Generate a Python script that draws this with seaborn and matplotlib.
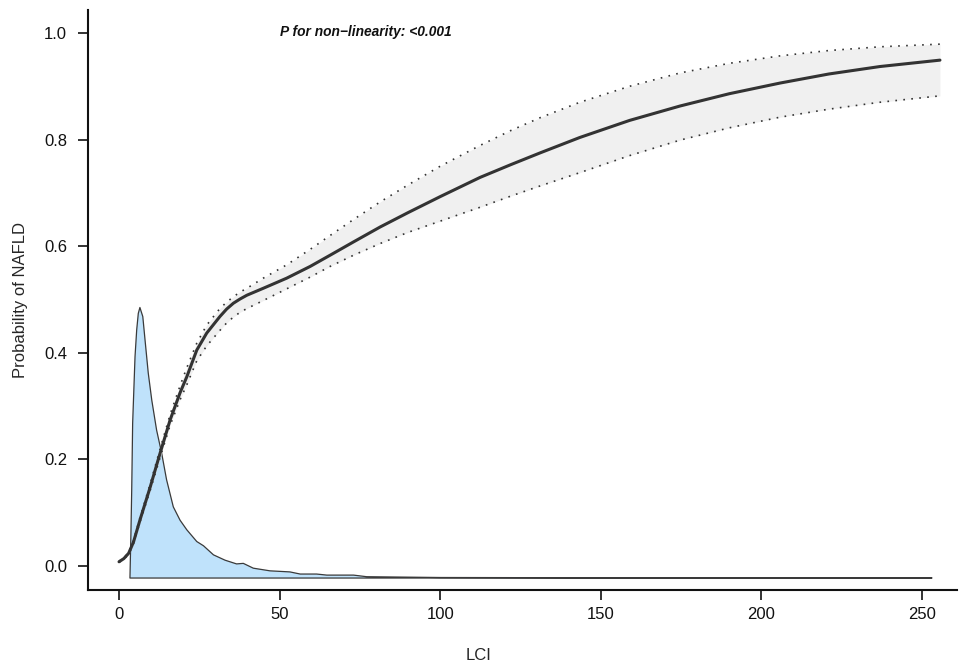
import numpy as np
import matplotlib
matplotlib.use("Agg")
import matplotlib.pyplot as plt
import seaborn as sns

# RCS-Kurve (Wahrscheinlichkeit NAFLD vs. LCI)
lci = [0, 1.5, 3, 4.5, 6.5, 9.7, 12.8, 15.9, 19, 21.1, 24.2, 27.3, 31.4, 33.5,
       35.6, 37.7, 39.8, 44.9, 52.2, 59.5, 65.7, 73, 81.3, 90, 100, 112.4, 122,
       131.1, 143.5, 159, 174.7, 190, 205.8, 221, 236.9, 255.6]
prob = [0.008, 0.014, 0.024, 0.045, 0.086, 0.148, 0.212, 0.274, 0.325, 0.355,
        0.405, 0.437, 0.468, 0.482, 0.493, 0.501, 0.508, 0.521, 0.540, 0.562,
        0.583, 0.608, 0.636, 0.663, 0.693, 0.729, 0.753, 0.775, 0.804, 0.836,
        0.863, 0.886, 0.906, 0.923, 0.937, 0.949]
upper = [0.009, 0.015, 0.026, 0.048, 0.090, 0.154, 0.220, 0.284, 0.338, 0.372,
         0.418, 0.452, 0.483, 0.495, 0.505, 0.514, 0.521, 0.540, 0.565, 0.594,
         0.620, 0.650, 0.683, 0.715, 0.750, 0.789, 0.817, 0.841, 0.870, 0.900,
         0.925, 0.943, 0.957, 0.967, 0.974, 0.979]
lower = [0.007, 0.013, 0.022, 0.042, 0.082, 0.142, 0.204, 0.264, 0.312, 0.340,
         0.385, 0.413, 0.442, 0.456, 0.467, 0.476, 0.483, 0.498, 0.520, 0.542,
         0.562, 0.583, 0.605, 0.626, 0.647, 0.673, 0.694, 0.713, 0.738, 0.770,
         0.799, 0.822, 0.842, 0.857, 0.870, 0.882]

# Verteilung von LCI (skalierte Dichte)
dens_x = [3.4, 3.7, 3.95, 4.24, 4.98, 5.5, 6.0, 6.5, 7.4, 8.1, 9.1, 10.2, 11.7,
          13.3, 14.8, 16.9, 19, 21.1, 24.2, 26.3, 29.4, 33.0, 36.6, 38.7, 41.8,
          47, 53.2, 56.4, 61.5, 64.7, 73, 77.1, 100, 150, 253.1]
dens_y = [-0.0225, 0.06, 0.143, 0.268, 0.393, 0.443, 0.474, 0.485, 0.468, 0.424,
          0.362, 0.311, 0.255, 0.211, 0.162, 0.111, 0.086, 0.068, 0.046, 0.038,
          0.021, 0.011, 0.004, 0.005, -0.004, -0.009, -0.011, -0.015, -0.015,
          -0.017, -0.017, -0.020, -0.0215, -0.022, -0.0222]
dens_base = -0.0225

x_ticks = [0, 50, 100, 150, 200, 250]
y_ticks = [0.0, 0.2, 0.4, 0.6, 0.8, 1.0]

sns.set_theme(style="ticks")
plt.rcParams["font.family"] = ["Liberation Sans", "DejaVu Sans"]

fig = plt.figure(figsize=(9.59, 6.64), dpi=100)
ax = fig.add_axes([0.0918, 0.1114, 0.9061, 0.8735])

# Dichte
poly_x = dens_x + [dens_x[-1], dens_x[0]]
poly_y = dens_y + [dens_base, dens_base]
ax.fill(poly_x, poly_y, facecolor="#BFE2FB", edgecolor="#3a3a3a", linewidth=0.9,
        joinstyle="round", zorder=1)

# Konfidenzband
ax.fill_between(lci, lower, upper, color="#F0F0F0", linewidth=0, zorder=2)
sns.lineplot(x=lci, y=upper, ax=ax, color="#333333", linewidth=1.2,
             linestyle=(0, (1, 3.8)), zorder=3)
sns.lineplot(x=lci, y=lower, ax=ax, color="#333333", linewidth=1.2,
             linestyle=(0, (1, 3.8)), zorder=3)
sns.lineplot(x=lci, y=prob, ax=ax, color="#333333", linewidth=2.2, zorder=4)
for ln in ax.lines:
    ln.set_solid_joinstyle("round")

ax.text(50.1, 1.002, "P for non\u2212linearity: <0.001", fontsize=9.9,
        fontweight="bold", fontstyle="italic", ha="left", va="center", color="#111111")

ax.set_xlim(-9.65, 260.9)
ax.set_ylim(-0.045, 1.043)
ax.set_xticks(x_ticks)
ax.set_yticks(y_ticks)
ax.set_xticklabels([str(t) for t in x_ticks])
ax.set_yticklabels([f"{t:.1f}" for t in y_ticks])
ax.tick_params(axis="both", direction="out", length=7, width=1.2, labelsize=12,
               colors="#111111")
ax.tick_params(axis="x", pad=5)
ax.tick_params(axis="y", pad=8)

sns.despine(ax=ax)
for s in ["left", "bottom"]:
    ax.spines[s].set_linewidth(1.5)
    ax.spines[s].set_color("#111111")

ax.set_xlabel("LCI", fontsize=12)
ax.set_ylabel("Probability of NAFLD", fontsize=12)
ax.xaxis.set_label_coords(0.449, -0.1)
ax.yaxis.set_label_coords(-0.069, 0.5)

fig.savefig("out.png", dpi=100)
